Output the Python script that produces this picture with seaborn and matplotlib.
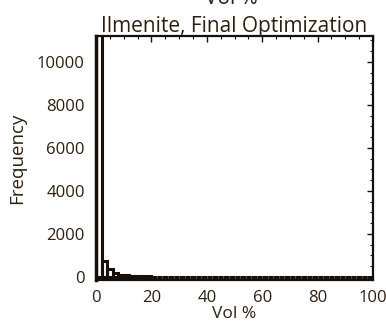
import numpy as np
import matplotlib
matplotlib.use("Agg")
import matplotlib.pyplot as plt
from matplotlib.ticker import MultipleLocator
import seaborn as sns

# Data: histogram of Vol % (bin width 2, 0-100)
bin_centers = [1, 3, 5, 7, 9, 11, 13, 15, 17, 19, 21, 23, 25, 27, 29,
               31, 33, 35, 37, 39, 41, 43, 45, 47, 49, 51, 53, 55, 57, 59,
               61, 63, 65, 67, 69, 71, 73, 75, 77, 79, 81, 83, 85, 87, 89,
               91, 93, 95, 97, 99]
counts = [11500, 750, 360, 170, 100, 60, 40, 30, 22, 16, 12, 10, 8, 7, 6,
          5, 5, 4, 4, 4, 3, 3, 3, 3, 3, 3, 3, 3, 3, 3,
          3, 3, 3, 3, 3, 3, 3, 3, 3, 3, 3, 4, 4, 5, 8,
          10, 6, 4, 3, 3]
bin_edges = list(range(0, 102, 2))
x_ticks = [0, 20, 40, 60, 80, 100]
y_ticks = [0, 2000, 4000, 6000, 8000, 10000]

sns.set_style("white")
plt.rcParams['font.family'] = ['Open Sans', 'DejaVu Sans']
txt = '#2e2010'
line = '#17100a'

fig = plt.figure(figsize=(3.86, 3.29), dpi=100)
ax = fig.add_axes([96/386, 1 - 280/329, 277/386, 244/329])

sns.histplot(x=bin_centers, weights=counts, bins=bin_edges, ax=ax,
             fill=False, element="bars", color=line, linewidth=2.2)

ax.set_xlim(0, 100)
ax.set_ylim(-150, 11200)
ax.set_xticks(x_ticks)
ax.set_yticks(y_ticks)
ax.xaxis.set_minor_locator(MultipleLocator(5))
ax.yaxis.set_minor_locator(MultipleLocator(500))
ax.tick_params(which='both', direction='in', top=True, right=True,
               colors=line, labelcolor=txt, labelsize=12)
ax.tick_params(which='major', length=4, width=1)
ax.tick_params(axis='x', which='major', pad=7)
ax.tick_params(axis='y', which='major', pad=8)
ax.tick_params(which='minor', length=2, width=0.8)
for s in ax.spines.values():
    s.set_color(line)
    s.set_linewidth(1.6)
ax.spines['left'].set_linewidth(2.5)

ax.set_xlabel('Vol %', color=txt, fontsize=12.5, labelpad=0)
ax.set_ylabel('Frequency', color=txt, fontsize=13.5, labelpad=8)
ax.set_title('Ilmenite, Final Optimization', color=txt, fontsize=15, pad=3)
fig.text(0.6, 1.005, 'Vol %', color=txt, fontsize=15, ha='center', va='center')

fig.savefig('out.png', dpi=100)
